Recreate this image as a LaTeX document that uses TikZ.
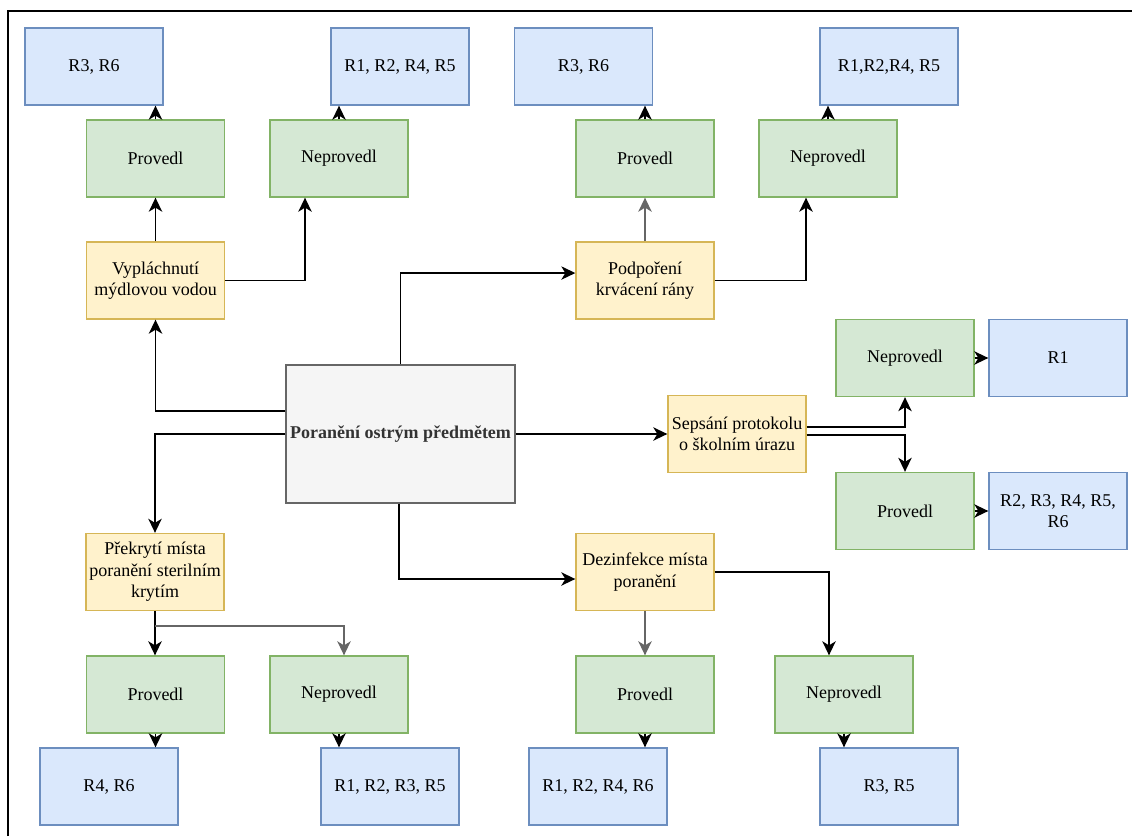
\documentclass[tikz,border=0pt]{standalone}
\usepackage{fontspec}
\setmainfont{Liberation Serif}
\usetikzlibrary{arrows.meta,calc}
\definecolor{bluef}{HTML}{DAE8FC}\definecolor{bluel}{HTML}{6C8EBF}
\definecolor{greenf}{HTML}{D5E8D4}\definecolor{greenl}{HTML}{82B366}
\definecolor{yelf}{HTML}{FFF2CC}\definecolor{yell}{HTML}{D6B656}
\definecolor{grayf}{HTML}{F5F5F5}\definecolor{grayl}{HTML}{666666}
\definecolor{txtc}{HTML}{333333}
\tikzset{
  box/.style={draw, line width=1pt, minimum width=103.5pt, minimum height=57.75pt, inner sep=1pt, align=center, font=\fontsize{13.5}{16}\selectfont, text=black},
  rbox/.style={box, fill=bluef, draw=bluel},
  gbox/.style={box, fill=greenf, draw=greenl},
  ybox/.style={box, fill=yelf, draw=yell},
  cbox/.style={box, fill=grayf, draw=grayl, minimum width=171.75pt, minimum height=103.5pt, font=\fontsize{13.5}{16}\selectfont\bfseries, text=txtc},
  arr/.style={draw=black, line width=1.2pt, -{Stealth[length=10.5pt,width=10pt,inset=3pt]}},
  garr/.style={arr, draw=black!60},
  frame/.style={draw=black, line width=1.6pt}
}
\begin{document}
\begin{tikzpicture}[x=0.75pt,y=-0.75pt]
\useasboundingbox (0,0) rectangle (1132,836);
\draw[frame] (8,836) -- (8,11) -- (1132,11);
% top row
\node[rbox] (B1) at (94,66.5) {R3, R6};
\node[rbox] (B2) at (400,66.5) {R1, R2, R4, R5};
\node[rbox] (B3) at (583.5,66.5) {R3, R6};
\node[rbox] (B4) at (889,66.5) {R1,R2,R4, R5};
\node[gbox] (G1) at (155.5,158.5) {Provedl};
\node[gbox] (G2) at (339,158.5) {Neprovedl};
\node[gbox] (G3) at (645,158.5) {Provedl};
\node[gbox] (G4) at (828,158.5) {Neprovedl};
\node[ybox] (Y1) at (155.5,280.5) {Vypláchnutí\\mýdlovou vodou};
\node[ybox] (Y2) at (645,280.5) {Podpoření\\krvácení rány};
% center
\node[cbox] (C) at (400.5,434) {Poranění ostrým předmětem};
\node[ybox] (S) at (737,434) {Sepsání protokolu\\o školním úrazu};
\node[gbox] (G5) at (905,358) {Neprovedl};
\node[rbox] (R1) at (1058,358) {R1};
\node[gbox] (G6) at (905,511) {Provedl};
\node[rbox] (Rb) at (1058,511) {R2, R3, R4, R5,\\R6};
% bottom
\node[ybox] (Y3) at (155,572) {Překrytí místa\\poranění sterilním\\krytím};
\node[ybox] (D) at (645,572) {Dezinfekce místa\\poranění};
\node[gbox] (G7) at (155.5,694.5) {Provedl};
\node[gbox] (G8) at (339,694.5) {Neprovedl};
\node[gbox] (G9) at (645,694.5) {Provedl};
\node[gbox] (G10) at (844,694.5) {Neprovedl};
\node[rbox] (B7) at (109,786.5) {R4, R6};
\node[rbox] (B8) at (390,786.5) {R1, R2, R3, R5};
\node[rbox] (B9) at (598,786.5) {R1, R2, R4, R6};
\node[rbox] (B10) at (889,786.5) {R3, R5};
% connectors top
\draw[arr] (G1.north) -- (G1.north |- B1.south);
\draw[arr] (G2.north) -- (G2.north |- B2.south);
\draw[arr] (G3.north) -- (G3.north |- B3.south);
\draw[arr] (G4.north) -- (G4.north |- B4.south);
\draw[arr] (Y1.north) -- (G1.south);
\draw[arr] (Y1.east) -| ([xshift=-25.5pt]G2.south);
\draw[garr] (Y2.north) -- (G3.south);
\draw[arr] (Y2.east) -| ([xshift=-16.5pt]G4.south);
% center connectors
\draw[arr] (C.north) |- ([yshift=5.6pt]Y2.west);
\draw[arr] ([yshift=17.25pt]C.west) -| (Y1.south);
\draw[arr] (C.west) -| (Y3.north);
\draw[arr] (C.east) -- (S.west);
\draw[arr] ([xshift=-1pt]C.south) |- ([yshift=-5.25pt]D.west);
\draw[arr] ([yshift=5.25pt]S.east) -| (G5.south);
\draw[arr] ([yshift=-0.75pt]S.east) -| (G6.north);
\draw[arr] (G5.east) -- (R1.west);
\draw[arr] (G6.east) -- (Rb.west);
% bottom connectors
\coordinate (y3j) at ([yshift=-11.25pt]Y3.south);
\draw[arr] (Y3.south) -- (G7.north -| Y3.south);
\draw[garr] (y3j) -| ([xshift=3.75pt]G8.north);
\draw[garr] (D.south) -- (G9.north);
\draw[arr] (D.east) -| ([xshift=-11.25pt]G10.north);
\draw[arr] (G7.south) -- (G7.south |- B7.north);
\draw[arr] (G8.south) -- (G8.south |- B8.north);
\draw[arr] (G9.south) -- (G9.south |- B9.north);
\draw[arr] (G10.south) -- (G10.south |- B10.north);
\end{tikzpicture}
\end{document}
